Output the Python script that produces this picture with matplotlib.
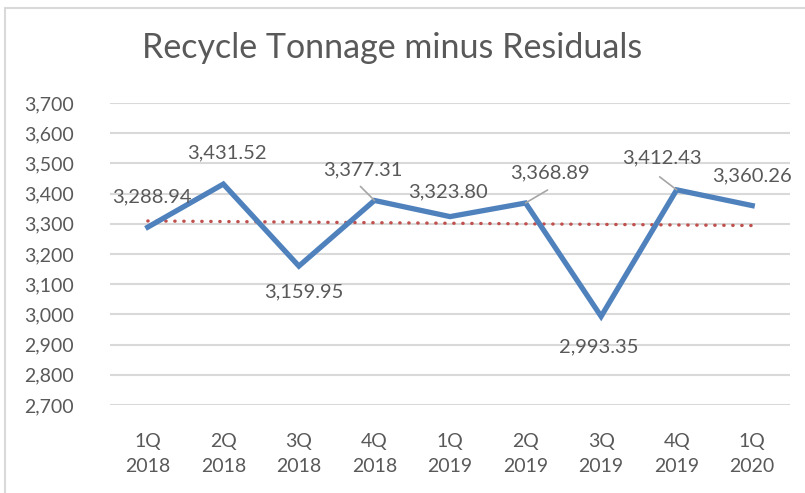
import matplotlib
matplotlib.use("Agg")
import matplotlib.pyplot as plt
from matplotlib.patches import Rectangle
import numpy as np

categories = ["1Q\n2018", "2Q\n2018", "3Q\n2018", "4Q\n2018", "1Q\n2019",
              "2Q\n2019", "3Q\n2019", "4Q\n2019", "1Q\n2020"]
values = [3288.94, 3431.52, 3159.95, 3377.31, 3323.80, 3368.89, 2993.35, 3412.43, 3360.26]
yticks = list(range(2700, 3701, 100))
title = "Recycle Tonnage minus Residuals"

# label offsets in pixels (dx, dy) and whether a leader line is drawn
label_offsets = [(4, 30), (4, 31), (5, -26), (-12, 31), (-2, 25),
                 (24, 30), (-2, -30), (-15, 32), (0, 30)]
leaders = [None, None, None, (-14, 14), None, (22, 13), None, (-17, 13), None]

FONT = "Lato"
GRAY = "#595959"

fig = plt.figure(figsize=(8.05, 4.93), dpi=100)
fig.patch.set_facecolor("white")
fig.patches.append(Rectangle((5 / 805, -0.1), 1.0, 1 - 8 / 493 + 0.1,
                             transform=fig.transFigure, fill=False,
                             edgecolor="#D9D9D9", linewidth=1.5))

ax = fig.add_axes([110 / 805, 1 - 405 / 493, 680 / 805, 302 / 493])
x = np.arange(len(values))
ax.set_xlim(-0.5, len(values) - 0.5)
ax.set_ylim(2700, 3700)
ax.set_yticks(yticks)
ax.set_yticklabels([f"{v:,}" for v in yticks], fontsize=14, color=GRAY, family=FONT)
ax.set_xticks(x)
ax.set_xticklabels(categories, fontsize=14, color=GRAY, family=FONT, linespacing=1.6)
ax.tick_params(length=0)
ax.tick_params(axis="x", pad=20)
ax.tick_params(axis="y", pad=26)
for s in ax.spines.values():
    s.set_visible(False)
ax.grid(axis="y", color="#D9D9D9", linewidth=1.5)
ax.set_axisbelow(True)

# trend line
coef = np.polyfit(x, values, 1)
ax.plot(x, np.polyval(coef, x), color="#C0504D", linestyle=(0, (0.1, 2.6)),
        linewidth=2.4, dash_capstyle="round", zorder=2)

ax.plot(x, values, color="#4F81BD", linewidth=3.8, solid_joinstyle="miter", zorder=3)

k = 0.72
for i, v in enumerate(values):
    dx, dy = label_offsets[i]
    ax.annotate(f"{v:,.2f}", (i, v), xytext=(dx * k, dy * k), textcoords="offset points",
                ha="center", va="center", fontsize=14.5, color=GRAY, family=FONT, zorder=4)
    if leaders[i] is not None:
        lx, ly = leaders[i]
        ax.annotate("", (i, v), xytext=(lx * k, ly * k), textcoords="offset points",
                    arrowprops=dict(arrowstyle="-", color="#A6A6A6", linewidth=1.2,
                                    shrinkA=0, shrinkB=0))

fig.text(392 / 805, 1 - 48 / 493, title, ha="center", va="center",
         fontsize=24.5, color=GRAY, family=FONT)

fig.savefig("out.png", dpi=100)
